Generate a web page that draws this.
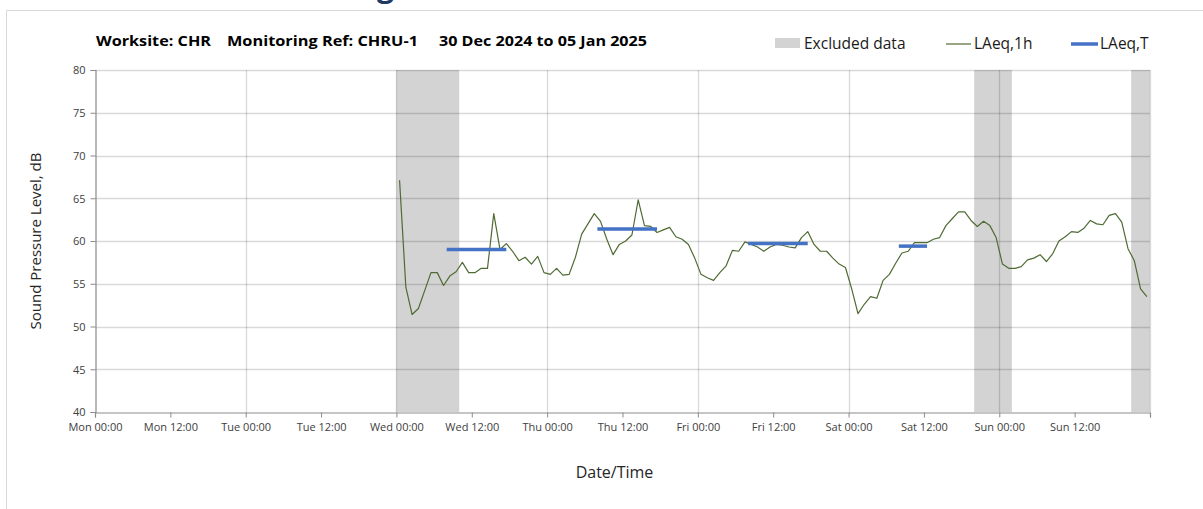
<!DOCTYPE html>
<html>
<head>
<meta charset="utf-8">
<script src="https://cdn.jsdelivr.net/npm/d3@7"></script>
<style>
  body { margin: 0; background: #fff; }
  text { font-family: "Open Sans", "Lato", sans-serif; }
</style>
</head>
<body>
<div id="canvas"></div>
<script>
// ---- data ----
const weekStart = "2024-12-30T00:00";
const weekEnd = "2025-01-06T00:00";

// hourly LAeq,1h from Wed 01 Jan 00:30, one value per hour
const laeqStart = "2025-01-01T00:30";
const laeq1h = [
  // Wed
  67.1, 54.6, 51.4, 52.1, 54.2, 56.3, 56.3, 54.8, 55.9, 56.4, 57.5, 56.3,
  56.3, 56.8, 56.8, 63.2, 59.0, 59.7, 58.8, 57.7, 58.1, 57.3, 58.2, 56.3,
  // Thu
  56.1, 56.8, 56.0, 56.1, 58.1, 60.8, 62.0, 63.2, 62.3, 60.2, 58.4, 59.6,
  60.0, 60.7, 64.8, 61.8, 61.7, 61.0, 61.3, 61.6, 60.5, 60.2, 59.6, 58.0,
  // Fri
  56.1, 55.7, 55.4, 56.3, 57.1, 58.9, 58.8, 59.9, 59.6, 59.3, 58.8, 59.3,
  59.6, 59.5, 59.3, 59.2, 60.4, 61.1, 59.6, 58.8, 58.8, 58.0, 57.3, 56.9,
  // Sat
  54.4, 51.5, 52.6, 53.5, 53.3, 55.4, 56.1, 57.4, 58.6, 58.8, 59.8, 59.8,
  59.8, 60.2, 60.4, 61.8, 62.6, 63.4, 63.4, 62.4, 61.7, 62.3, 61.8, 60.4,
  // Sun
  57.3, 56.8, 56.8, 57.0, 57.8, 58.0, 58.4, 57.6, 58.5, 60.0, 60.5, 61.1,
  61.0, 61.5, 62.4, 62.0, 61.9, 63.0, 63.2, 62.2, 59.1, 57.7, 54.4, 53.5
];

// LAeq,T periods
const periodStart = ["2025-01-01T08:00", "2025-01-02T08:00", "2025-01-03T08:00", "2025-01-04T08:00"];
const periodEnd   = ["2025-01-01T17:30", "2025-01-02T17:30", "2025-01-03T17:30", "2025-01-04T12:30"];
const periodLAeq  = [59.0, 61.4, 59.7, 59.4];

// excluded data
const excludedStart = ["2025-01-01T00:00", "2025-01-04T20:00", "2025-01-05T21:00"];
const excludedEnd   = ["2025-01-01T10:00", "2025-01-05T02:00", "2025-01-06T00:00"];

const yTicks = [40, 45, 50, 55, 60, 65, 70, 75, 80];

// ---- layout ----
const dims = { width: 1203, height: 509 };
const plot = { left: 95, right: 1150, top: 70, bottom: 412 };

const parse = d3.utcParse("%Y-%m-%dT%H:%M");
const fmt = d3.utcFormat("%a %H:%M");

const svg = d3
  .select("#canvas")
  .append("svg")
  .attr("width", dims.width)
  .attr("height", dims.height);

// frame round the chart
svg
  .append("path")
  .attr("d", `M6.5,${dims.height} V10.5 H${dims.width}`)
  .attr("fill", "none")
  .attr("stroke", "#d9d9d9");

// cropped heading above the chart (only its descender shows)
svg
  .append("text")
  .attr("x", 377)
  .attr("y", -3)
  .attr("font-size", 30)
  .attr("font-weight", "bold")
  .attr("fill", "#1f3864")
  .text("g");

const xScale = d3
  .scaleUtc()
  .domain([parse(weekStart), parse(weekEnd)])
  .range([plot.left, plot.right]);

const yScale = d3
  .scaleLinear()
  .domain([40, 80])
  .range([plot.bottom, plot.top]);

// excluded bands
svg
  .append("g")
  .selectAll("rect")
  .data(excludedStart.map((s, i) => ({ s: parse(s), e: parse(excludedEnd[i]) })))
  .join("rect")
  .attr("x", d => xScale(d.s))
  .attr("width", d => xScale(d.e) - xScale(d.s))
  .attr("y", plot.top)
  .attr("height", plot.bottom - plot.top)
  .attr("fill", "#d3d3d3");

// gridlines
const gridColor = "rgba(0,0,0,0.15)";
svg
  .append("g")
  .selectAll("line")
  .data(yTicks.filter(d => d > 40))
  .join("line")
  .attr("x1", plot.left)
  .attr("x2", plot.right)
  .attr("y1", d => Math.round(yScale(d)) + 0.5)
  .attr("y2", d => Math.round(yScale(d)) + 0.5)
  .attr("stroke", gridColor)
  .attr("stroke-width", 1.3);

const dayTicks = d3.utcDay.range(parse(weekStart), d3.utcHour.offset(parse(weekEnd), 1)).slice(1);
svg
  .append("g")
  .selectAll("line")
  .data(dayTicks)
  .join("line")
  .attr("x1", d => Math.round(xScale(d)) + 0.5)
  .attr("x2", d => Math.round(xScale(d)) + 0.5)
  .attr("y1", plot.top)
  .attr("y2", plot.bottom)
  .attr("stroke", gridColor)
  .attr("stroke-width", 1.3);

// axes
const xTickValues = d3.utcHour.every(12).range(parse(weekStart), d3.utcHour.offset(parse(weekEnd), 1));
const xAxis = d3
  .axisBottom(xScale)
  .tickValues(xTickValues)
  .tickSize(5)
  .tickPadding(6)
  .tickFormat(d => (+d === +parse(weekEnd) ? "" : fmt(d)));

const xAxisGroup = svg
  .append("g")
  .attr("transform", `translate(0,${plot.bottom + 0.5})`)
  .call(xAxis);

const yAxis = d3
  .axisLeft(yScale)
  .tickValues(yTicks)
  .tickSize(5)
  .tickPadding(5);

const yAxisGroup = svg
  .append("g")
  .attr("transform", `translate(${plot.left + 0.5},0)`)
  .call(yAxis);

[xAxisGroup, yAxisGroup].forEach(g => {
  g.select(".domain").attr("stroke", "#8c8c8c").attr("stroke-width", 1.2);
  g.selectAll(".tick line").attr("stroke", "#8c8c8c");
  g.selectAll(".tick text")
    .attr("fill", "#404040")
    .attr("font-size", 11)
    .style("font-family", '"Open Sans", sans-serif');
});
yAxisGroup.selectAll(".tick text").attr("dy", "0.35em");

// LAeq,1h line
const lineData = laeq1h.map((v, i) => ({ t: d3.utcHour.offset(parse(laeqStart), i), v }));
const lineGen = d3
  .line()
  .x(d => xScale(d.t))
  .y(d => yScale(d.v));

svg
  .append("path")
  .datum(lineData)
  .attr("d", lineGen)
  .attr("fill", "none")
  .attr("stroke", "#4f6b33")
  .attr("stroke-width", 1.2)
  .attr("stroke-linejoin", "round");

// LAeq,T segments
svg
  .append("g")
  .selectAll("line")
  .data(periodStart.map((s, i) => ({ s: parse(s), e: parse(periodEnd[i]), v: periodLAeq[i] })))
  .join("line")
  .attr("x1", d => xScale(d.s))
  .attr("x2", d => xScale(d.e))
  .attr("y1", d => yScale(d.v))
  .attr("y2", d => yScale(d.v))
  .attr("stroke", "#4472c4")
  .attr("stroke-width", 3.5);

// title
const title = svg.append("g").attr("font-weight", "bold").attr("font-size", 14).attr("fill", "#000");
title.append("text").attr("x", 96).attr("y", 46).attr("textLength", 115).attr("lengthAdjust", "spacingAndGlyphs").text("Worksite: CHR");
title.append("text").attr("x", 227).attr("y", 46).attr("textLength", 191).attr("lengthAdjust", "spacingAndGlyphs").text("Monitoring Ref: CHRU-1");
title.append("text").attr("x", 439).attr("y", 46).attr("textLength", 208).attr("lengthAdjust", "spacingAndGlyphs").text("30 Dec 2024 to 05 Jan 2025");

// legend
const legend = svg.append("g").attr("font-size", 15.5).attr("fill", "#1a1a1a");
legend.append("rect").attr("x", 775).attr("y", 38).attr("width", 25).attr("height", 10).attr("fill", "#d3d3d3");
legend.append("text").attr("x", 804).attr("y", 49).text("Excluded data");
legend.append("line").attr("x1", 946).attr("x2", 971).attr("y1", 44).attr("y2", 44).attr("stroke", "#4f6b33").attr("stroke-width", 1.2);
legend.append("text").attr("x", 974).attr("y", 49).text("LAeq,1h");
legend.append("line").attr("x1", 1071).attr("x2", 1098).attr("y1", 44).attr("y2", 44).attr("stroke", "#4472c4").attr("stroke-width", 3.5);
legend.append("text").attr("x", 1100).attr("y", 49).text("LAeq,T");

// axis titles
svg
  .append("text")
  .attr("x", (plot.left + plot.right) / 2 - 8)
  .attr("y", 478)
  .attr("text-anchor", "middle")
  .attr("font-size", 16)
  .attr("fill", "#262626")
  .text("Date/Time");

svg
  .append("text")
  .attr("transform", `translate(41,${(plot.top + plot.bottom) / 2}) rotate(-90)`)
  .attr("text-anchor", "middle")
  .attr("font-size", 15)
  .attr("fill", "#262626")
  .text("Sound Pressure Level, dB");
</script>
</body>
</html>
